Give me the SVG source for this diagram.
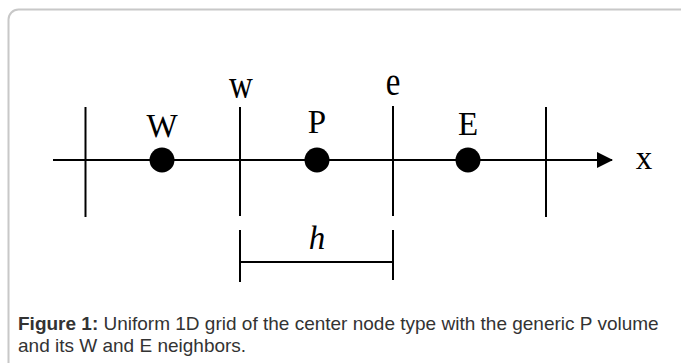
<svg xmlns="http://www.w3.org/2000/svg" width="681" height="363" viewBox="0 0 681 363">
<style>
.ln{stroke:#000;stroke-width:2;fill:none}
.lbl{font-family:"Liberation Serif",serif;font-size:33px;fill:#000;text-anchor:middle}
.cap{font-family:"Liberation Sans",Arial,sans-serif;font-size:19px;fill:#333}
</style>
<defs>
<marker id="ah" viewBox="0 0 16 16" refX="15" refY="8" markerWidth="16" markerHeight="16" markerUnits="userSpaceOnUse" orient="auto">
<path d="M0,0 L16,8 L0,16 Z" fill="#000"/>
</marker>
</defs>
<rect x="8.5" y="9.5" width="700" height="400" rx="10" fill="#fff" stroke="#c8c8c8" stroke-width="2"/>
<g id="connectors">
<line class="ln" x1="53" y1="160" x2="546" y2="160"/>
<line class="ln" x1="546" y1="160" x2="612" y2="160" stroke-width="3" marker-end="url(#ah)"/>
<line class="ln" x1="85.5" y1="107" x2="85.5" y2="217"/>
<line class="ln" x1="240" y1="107" x2="240" y2="216"/>
<line class="ln" x1="393" y1="106" x2="393" y2="216"/>
<line class="ln" x1="546" y1="107" x2="546" y2="217"/>
<line class="ln" x1="240" y1="230" x2="240" y2="282"/>
<line class="ln" x1="393" y1="230" x2="393" y2="280"/>
<line class="ln" x1="240" y1="262" x2="393" y2="262"/>
</g>
<g id="node-W"><circle cx="162" cy="160" r="12.5"/><text class="lbl" x="162" y="137">W</text></g>
<g id="node-P"><circle cx="317" cy="160" r="12.5"/><text class="lbl" x="317" y="133">P</text></g>
<g id="node-E"><circle cx="468" cy="160" r="12.5"/><text class="lbl" x="468" y="135">E</text></g>
<g id="label-w"><text class="lbl" transform="translate(241,98) scale(1,1.2)">w</text></g>
<g id="label-e"><text class="lbl" transform="translate(393,94.5) scale(1,1.2)">e</text></g>
<g id="label-x"><text class="lbl" x="644" y="169">x</text></g>
<g id="label-h"><text class="lbl" x="317" y="249" font-style="italic">h</text></g>
<g id="caption">
<text class="cap" x="18" y="330"><tspan font-weight="bold">Figure 1:</tspan> Uniform 1D grid of the center node type with the generic P volume</text>
<text class="cap" x="18" y="352">and its W and E neighbors.</text>
</g>
</svg>
